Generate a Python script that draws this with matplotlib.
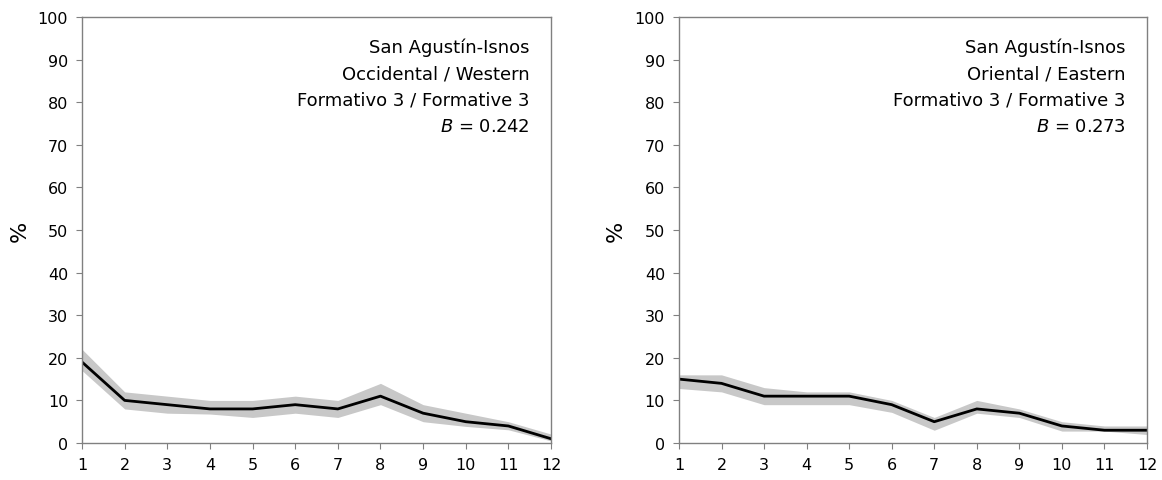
import matplotlib
matplotlib.use("Agg")
import matplotlib.pyplot as plt

plt.rcParams['font.family'] = ['DejaVu Sans']

x = list(range(1, 13))

# Western sector
west_mean = [19, 10, 9, 8, 8, 9, 8, 11, 7, 5, 4, 1]
west_low = [17, 8, 7, 6.8, 6, 7, 6, 9, 5, 3.9, 3.1, 0.5]
west_high = [22, 12, 11, 10, 10, 11, 10, 14, 9, 7, 5, 2.1]

# Eastern sector
east_mean = [15, 14, 11, 11, 11, 9, 5, 8, 7, 4, 3, 3]
east_low = [12.8, 12, 9, 9, 9, 7.2, 3, 7, 6, 2.8, 2.8, 2]
east_high = [16, 16, 13, 12, 12, 10, 6, 10, 8, 5, 4, 4]

labels = [
    ["San Agustín-Isnos", "Occidental / Western", "Formativo 3 / Formative 3", "0.242"],
    ["San Agustín-Isnos", "Oriental / Eastern", "Formativo 3 / Formative 3", "0.273"],
]

fig = plt.figure(figsize=(11.62, 4.81), dpi=100)
ax1 = fig.add_axes([0.0706, 0.0769, 0.4036, 0.8857])
ax2 = fig.add_axes([0.5843, 0.0769, 0.4028, 0.8857])

for ax, m, lo, hi, lab in [(ax1, west_mean, west_low, west_high, labels[0]),
                           (ax2, east_mean, east_low, east_high, labels[1])]:
    ax.fill_between(x, lo, hi, color='#c8c8c8', linewidth=0)
    ax.plot(x, m, color='black', linewidth=2)
    ax.set_xlim(1, 12)
    ax.set_ylim(0, 100)
    ax.set_xticks(x)
    ax.set_yticks(range(0, 101, 10))
    for s in ax.spines.values():
        s.set_color('#808080')
        s.set_linewidth(1)
    ax.tick_params(axis='both', direction='out', length=4, color='#808080',
                   labelsize=11.5, pad=6)
    ax.set_ylabel('%', fontsize=16, labelpad=6)
    txt = "\n".join(lab[:3]) + "\n$B$ = " + lab[3]
    ax.text(0.955, 0.952, txt, transform=ax.transAxes, ha='right', va='top',
            fontsize=13, linespacing=1.6)

fig.savefig('out.png', dpi=100, facecolor='white')
